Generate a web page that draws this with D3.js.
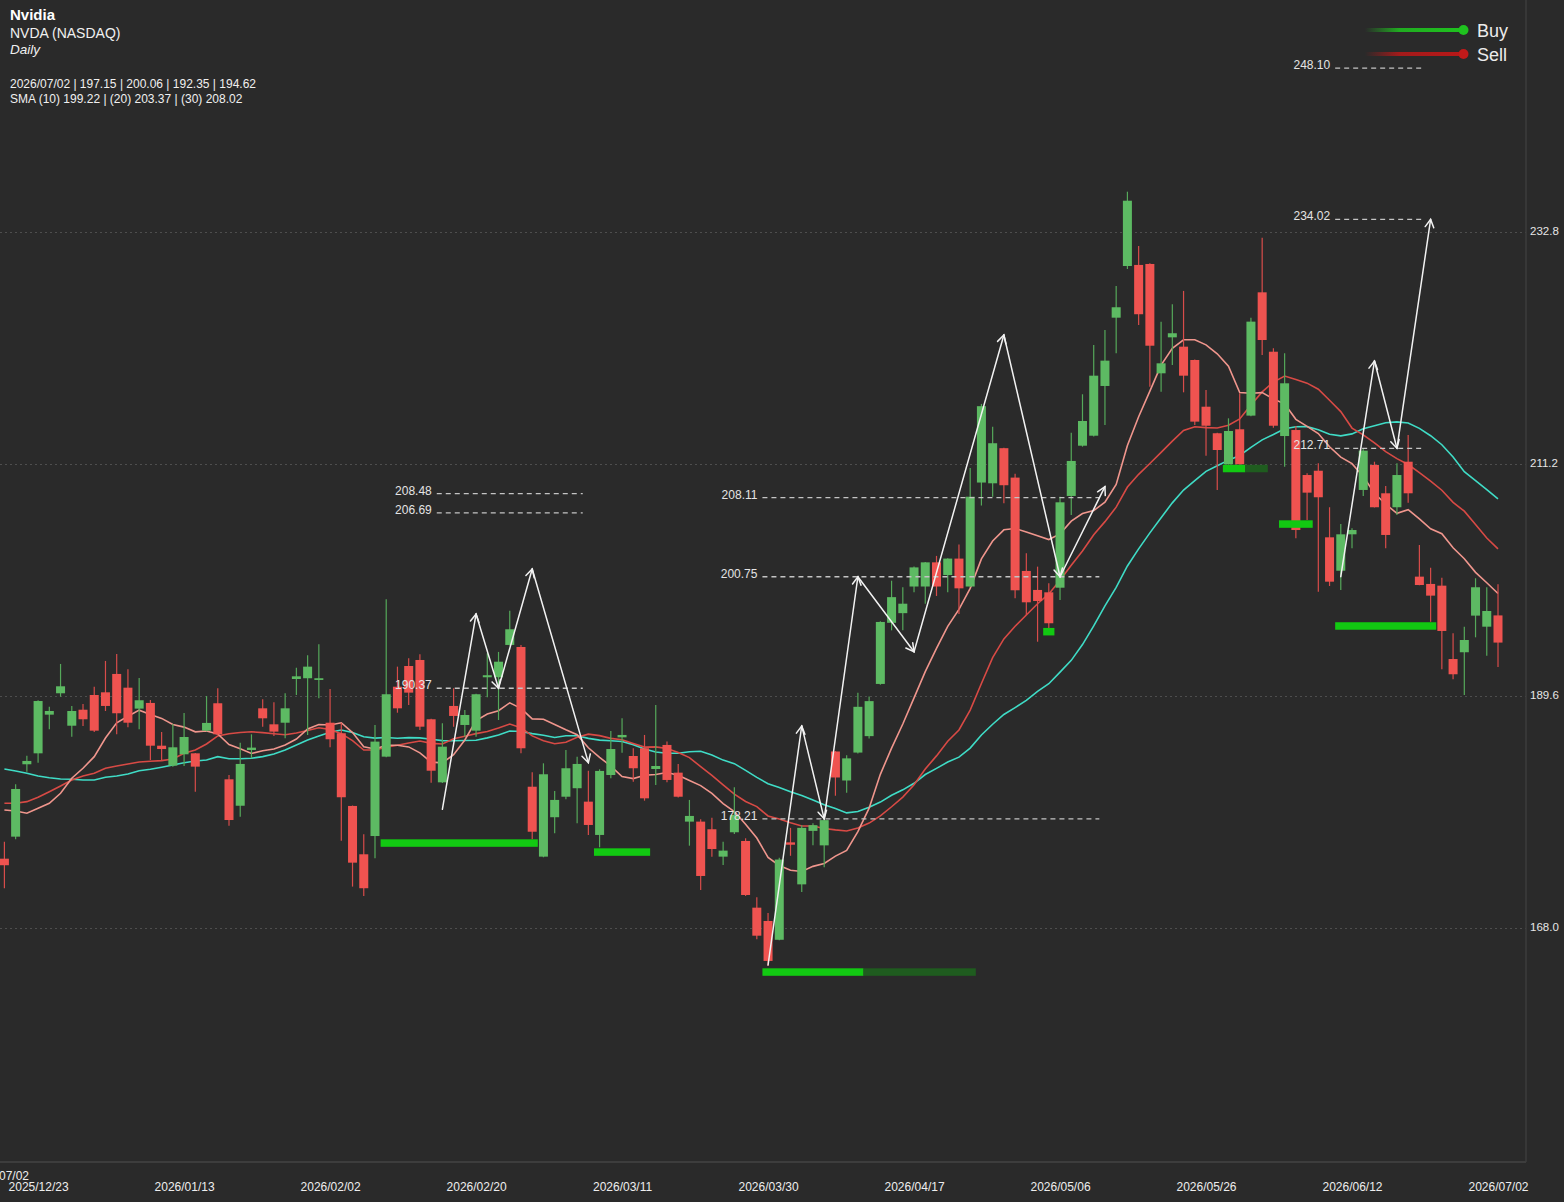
<!DOCTYPE html>
<html><head><meta charset="utf-8">
<script src="https://cdn.jsdelivr.net/npm/d3@7"></script>
<style>
html,body{margin:0;padding:0;background:#2a2a2a;overflow:hidden}
svg{display:block;font-family:"Liberation Sans",Arial,Helvetica,sans-serif}
</style></head><body>
<svg id="chart" width="1564" height="1202"></svg>
<script>
// ---- DATA ----
const openP  = [174.50,176.55,183.29,184.31,187.91,189.90,186.88,188.37,189.74,189.99,191.70,190.42,188.47,189.00,185.02,183.16,184.22,184.31,186.42,188.97,181.89,179.43,184.62,188.50,187.01,187.16,191.23,191.30,191.14,187.16,186.18,179.41,174.91,176.61,184.00,190.51,192.44,193.00,187.48,181.61,188.72,186.95,186.42,191.39,191.39,194.40,194.21,181.20,174.69,178.36,180.27,181.06,179.81,176.71,182.29,185.80,184.06,184.78,182.85,185.09,182.51,177.95,177.95,177.24,174.69,176.96,176.15,169.94,168.70,166.95,176.02,172.11,177.09,175.74,184.48,181.78,184.38,185.91,190.77,196.46,197.36,199.84,199.84,202.09,200.91,202.44,199.84,209.52,209.45,212.72,209.98,201.29,199.52,199.30,199.73,208.27,212.95,213.88,218.51,224.87,229.68,229.78,229.87,219.69,223.04,222.17,220.93,216.58,214.11,211.22,214.48,215.75,227.23,221.70,213.85,214.41,210.22,210.62,204.42,201.31,204.70,208.83,211.16,208.52,207.22,211.46,200.76,200.08,199.92,193.09,193.72,197.13,196.10,197.15];
const highP  = [176.08,181.43,184.09,189.25,188.65,192.63,188.72,188.90,190.51,192.91,193.56,192.13,191.32,189.28,186.30,187.04,188.07,184.35,189.65,190.37,182.29,185.30,186.08,189.34,189.06,189.90,192.28,193.44,194.46,190.30,187.16,179.45,176.77,186.95,198.65,192.38,193.16,193.53,187.52,187.11,190.37,188.35,189.85,193.62,193.75,197.59,194.40,182.55,183.38,180.80,184.62,184.00,182.69,182.82,186.39,187.57,184.78,186.02,188.81,185.40,183.32,179.97,178.17,178.32,176.08,181.15,176.40,170.91,169.45,174.59,177.37,177.62,177.80,178.23,184.52,184.13,189.96,189.60,196.60,200.38,199.78,201.70,202.12,202.69,202.48,203.75,210.87,216.84,214.71,212.76,210.34,202.93,201.69,200.14,208.20,214.16,217.74,222.33,223.72,227.82,236.60,231.54,229.93,224.50,226.12,227.36,220.98,218.14,214.15,215.50,217.83,224.87,232.32,222.02,221.55,214.79,210.38,211.31,207.22,205.66,205.26,212.71,211.46,209.20,211.31,213.95,203.71,201.59,200.66,195.49,196.10,200.61,199.77,200.06];
const lowP   = [171.75,176.31,182.60,183.44,186.55,189.58,185.86,186.86,186.30,188.25,186.08,186.73,186.55,183.69,183.69,183.07,183.13,180.74,186.35,186.00,177.57,178.41,183.85,186.79,185.93,185.71,189.74,186.02,189.44,184.87,176.18,171.90,171.03,174.54,183.95,188.09,188.81,186.48,181.58,181.55,186.79,185.86,185.86,189.53,187.41,194.35,184.31,176.31,174.63,176.87,180.03,177.80,176.71,175.56,181.99,184.37,181.67,179.90,181.36,181.61,180.20,175.71,171.59,174.69,173.91,176.80,171.03,167.00,164.51,166.90,174.77,171.40,175.74,173.71,180.36,180.65,184.30,185.69,190.70,195.76,195.76,199.31,198.24,198.96,199.31,197.28,199.80,207.38,208.20,207.60,198.75,197.19,194.70,195.95,198.59,206.50,212.86,213.80,214.88,221.55,229.40,224.19,218.45,217.98,220.47,217.92,214.88,212.02,208.83,211.20,211.20,215.70,221.40,214.63,211.00,204.33,206.03,199.36,199.89,199.52,203.40,208.27,207.20,203.40,206.50,207.65,199.95,196.57,192.13,191.20,189.74,195.11,193.40,192.35];
const closeP = [173.89,180.99,183.60,189.18,188.25,190.55,188.25,187.48,186.42,188.72,188.04,187.16,189.25,185.02,184.71,184.87,185.83,183.07,187.14,186.08,178.10,183.32,184.84,187.57,186.33,188.50,191.48,192.38,191.30,185.62,180.22,174.13,171.75,185.40,189.81,188.50,189.96,186.79,182.69,184.93,187.79,187.88,189.81,191.58,192.84,195.86,184.78,177.01,182.36,179.97,182.92,183.32,177.64,182.67,184.71,186.02,182.92,180.12,183.13,181.83,180.27,178.48,172.89,175.40,175.25,178.57,171.12,167.33,164.98,174.42,175.80,177.37,177.62,178.09,182.06,183.84,188.64,189.17,196.54,198.85,198.24,201.62,202.09,199.84,202.44,199.67,208.20,216.63,213.18,209.27,199.49,198.37,198.49,196.42,207.68,211.53,215.25,219.47,220.87,225.84,235.76,225.19,222.26,220.62,223.42,219.47,215.19,214.81,212.55,214.32,211.22,224.50,222.79,214.81,218.76,205.10,208.58,208.15,200.29,204.70,205.10,212.49,207.22,204.64,210.22,208.52,199.98,198.99,195.70,191.67,194.86,199.77,197.56,194.62];

// SMA values before enough history is in view
const sma10Early = [179.03,178.94,178.73,179.19,179.66,180.59,181.99,182.92,184.00];
const sma20Early = [179.66,179.66,179.81,180.22,180.74,181.27,181.83,182.20,182.45,182.92,183.13,183.32,183.50,183.57,183.63,183.78,184.31,184.62,185.18];
const sma30Early = [182.85,182.67,182.45,182.20,182.04,181.92,181.89,181.83,181.83,182.08,182.20,182.39,182.69,182.82,183.01,183.22,183.44,183.60,183.69,184.00,183.81,183.81,183.85,184.00,184.25,184.62,185.09,185.55,185.93];

const tickIndex  = [3,16,29,42,55,68,81,94,107,120,133];
const tickLabels = ["2025/12/23","2026/01/13","2026/02/02","2026/02/20","2026/03/11","2026/03/30","2026/04/17","2026/05/06","2026/05/26","2026/06/12","2026/07/02"];
const yTicks = [168.0,189.6,211.2,232.8];

const levelValues = [208.48,206.69,190.37,208.11,200.75,178.21,248.10,234.02,212.71];
const levelFrom   = [38.5,38.5,38.5,67.5,67.5,67.5,118.5,118.5,118.5];
const levelTo     = [51.5,51.5,51.5,97.5,97.5,97.5,126.5,126.5,126.5];

const zoneValues = [175.96,175.12,163.95,195.64,210.83,205.66,196.17];
const zoneFrom   = [33.5,52.5,67.5,92.5,108.5,113.5,118.5];
const zoneMid    = [47.5,57.5,76.5,93.5,110.5,116.5,127.5];
const zoneTo     = [47.5,57.5,86.5,93.5,112.5,116.5,127.5];

const zig1 = [[39,179.10],[42,197.28],[44,190.37],[47,201.47],[52,183.44]];
const zig2 = [[68,164.60],[71,186.86],[73,178.21],[76,200.75],[81,193.77],[89,223.26],[94,200.75],[98,209.14]];
const zig3 = [[119,200.76],[122,220.84],[124,212.71],[127,234.02]];

// ---- CHART ----
const W=1564,H=1202, plotR=1526, plotB=1162;
const svg=d3.select("#chart");
const x=d3.scaleLinear().domain([0,closeP.length-1]).range([4.4,1498]);
const y=d3.scaleLinear().domain([146.4,254.4]).range([1160.5,0.5]);

svg.append("rect").attr("width",W).attr("height",H).attr("fill","#2a2a2a");

// grid
svg.append("g").selectAll("line").data(yTicks).join("line")
  .attr("x1",0).attr("x2",plotR).attr("y1",d=>y(d)).attr("y2",d=>y(d))
  .attr("stroke","#4e4e4e").attr("stroke-width",1).attr("stroke-dasharray","2,3");

// y labels
svg.append("g").selectAll("text").data(yTicks).join("text")
  .attr("x",1530).attr("y",d=>y(d)+2).attr("fill","#e6e6e6").attr("font-size",11.5)
  .text(d=>d.toFixed(1));

// borders
svg.append("line").attr("x1",0).attr("x2",plotR).attr("y1",plotB).attr("y2",plotB).attr("stroke","#3d3d3d").attr("stroke-width",2);
svg.append("line").attr("x1",plotR).attr("x2",plotR).attr("y1",0).attr("y2",plotB).attr("stroke","#3d3d3d").attr("stroke-width",1.5);

// x axis
const xAxis=d3.axisBottom(x).tickValues(tickIndex).tickFormat((d,i)=>tickLabels[i]).tickSize(0).tickPadding(0);
const gx=svg.append("g").attr("transform",`translate(0,${plotB})`).call(xAxis);
gx.select(".domain").remove();
gx.selectAll("text").attr("fill","#eeeeee").attr("font-size",12).attr("font-family","Liberation Sans, Arial, sans-serif").attr("dy",0).attr("y",29);
// crosshair date label (clipped at left edge)
svg.append("text").attr("x",-1).attr("y",1180).attr("text-anchor","middle").attr("fill","#eeeeee").attr("font-size",12).text(tickLabels[tickLabels.length-1]);

// SMA lines
function sma(n,early){return closeP.map((c,i)=> i<n-1 ? early[i] : d3.mean(closeP.slice(i-n+1,i+1)));}
const line=d3.line().x((d,i)=>x(i)).y(d=>y(d)).curve(d3.curveLinear);
[[sma30Early,30,"#3fdcc6"],[sma20Early,20,"#d84a45"],[sma10Early,10,"#f0968d"]].forEach(([e,n,c])=>{
  svg.append("path").attr("d",line(sma(n,e))).attr("fill","none").attr("stroke",c).attr("stroke-width",1.6);
});

// candles
const idx=d3.range(closeP.length);
const up="#5dba63", dn="#ef5350";
const cg=svg.append("g");
cg.selectAll("line").data(idx).join("line")
  .attr("x1",i=>x(i)).attr("x2",i=>x(i)).attr("y1",i=>y(highP[i])).attr("y2",i=>y(lowP[i]))
  .attr("stroke",i=>closeP[i]>=openP[i]?"#55a85a":"#d84c4a").attr("stroke-width",1.2);
cg.selectAll("rect").data(idx).join("rect")
  .attr("x",i=>x(i)-4.5).attr("width",9)
  .attr("y",i=>y(Math.max(openP[i],closeP[i])))
  .attr("height",i=>Math.max(1.5,Math.abs(y(openP[i])-y(closeP[i]))))
  .attr("fill",i=>closeP[i]>=openP[i]?up:dn);

// zones
const zg=svg.append("g");
zoneValues.forEach((v,k)=>{
  zg.append("rect").attr("x",x(zoneFrom[k])).attr("width",x(zoneMid[k])-x(zoneFrom[k]))
    .attr("y",y(v)-3.7).attr("height",7.5).attr("fill","#12c912");
  if(zoneTo[k]>zoneMid[k]) zg.append("rect").attr("x",x(zoneMid[k])).attr("width",x(zoneTo[k])-x(zoneMid[k]))
    .attr("y",y(v)-3.7).attr("height",7.5).attr("fill","#1f5c1f");
});

// levels
const lg=svg.append("g");
levelValues.forEach((v,k)=>{
  lg.append("line").attr("x1",x(levelFrom[k])).attr("x2",x(levelTo[k])).attr("y1",y(v)).attr("y2",y(v))
    .attr("stroke","#c4c4c4").attr("stroke-width",1.3).attr("stroke-dasharray","5,4");
  lg.append("text").attr("x",x(levelFrom[k])-5).attr("y",y(v)+1).attr("text-anchor","end")
    .attr("fill","#e4e4e4").attr("font-size",12).text(v.toFixed(2));
});

// zigzag arrows
const ag=svg.append("g").attr("stroke","#f2f2f2").attr("stroke-width",1.5).attr("fill","none").attr("stroke-linecap","round");
[zig1,zig2,zig3].forEach(z=>{
  for(let k=1;k<z.length;k++){
    const x0=x(z[k-1][0]),y0=y(z[k-1][1]),x1=x(z[k][0]),y1=y(z[k][1]);
    ag.append("line").attr("x1",x0).attr("y1",y0).attr("x2",x1).attr("y2",y1);
    const a=Math.atan2(y1-y0,x1-x0), L=9, s=0.5;
    const p1=[x1-L*Math.cos(a-s),y1-L*Math.sin(a-s)], p2=[x1-L*Math.cos(a+s),y1-L*Math.sin(a+s)];
    ag.append("path").attr("d",`M${p1[0]},${p1[1]}L${x1},${y1}L${p2[0]},${p2[1]}`);
  }
});

// header
const hg=svg.append("g").attr("fill","#f0f0f0");
hg.append("text").attr("x",10).attr("y",20).attr("font-size",15).attr("font-weight","bold").attr("fill","#ffffff").text("Nvidia");
hg.append("text").attr("x",10).attr("y",37.5).attr("font-size",14).text("NVDA (NASDAQ)");
hg.append("text").attr("x",10).attr("y",54).attr("font-size",13.5).attr("font-style","italic").text("Daily");
const last=closeP.length-1;
hg.append("text").attr("x",10).attr("y",88).attr("font-size",12)
  .text(`${tickLabels[tickLabels.length-1]} | ${openP[last].toFixed(2)} | ${highP[last].toFixed(2)} | ${lowP[last].toFixed(2)} | ${closeP[last].toFixed(2)}`);
const s10=sma(10,sma10Early)[last], s20=sma(20,sma20Early)[last], s30=sma(30,sma30Early)[last];
hg.append("text").attr("x",10).attr("y",103).attr("font-size",12)
  .text(`SMA (10) 199.22 | (20) 203.37 | (30) 208.02`);

// legend
const defs=svg.append("defs");
[["gBuy","#1fc21f"],["gSell","#b81818"]].forEach(([id,c])=>{
  const g=defs.append("linearGradient").attr("id",id).attr("x1","0%").attr("x2","100%");
  g.append("stop").attr("offset","0%").attr("stop-color",c).attr("stop-opacity",0);
  g.append("stop").attr("offset","35%").attr("stop-color",c).attr("stop-opacity",0.85);
  g.append("stop").attr("offset","100%").attr("stop-color",c).attr("stop-opacity",1);
});
[["gBuy","#1fc21f","Buy",30],["gSell","#c01a1a","Sell",54]].forEach(([id,c,t,yy])=>{
  svg.append("rect").attr("x",1365).attr("y",yy-2).attr("width",98).attr("height",4).attr("fill",`url(#${id})`);
  svg.append("circle").attr("cx",1463.5).attr("cy",yy).attr("r",5).attr("fill",c);
  svg.append("text").attr("x",1477).attr("y",yy+6.5).attr("font-size",18).attr("fill","#ececec").text(t);
});
</script>
</body></html>
